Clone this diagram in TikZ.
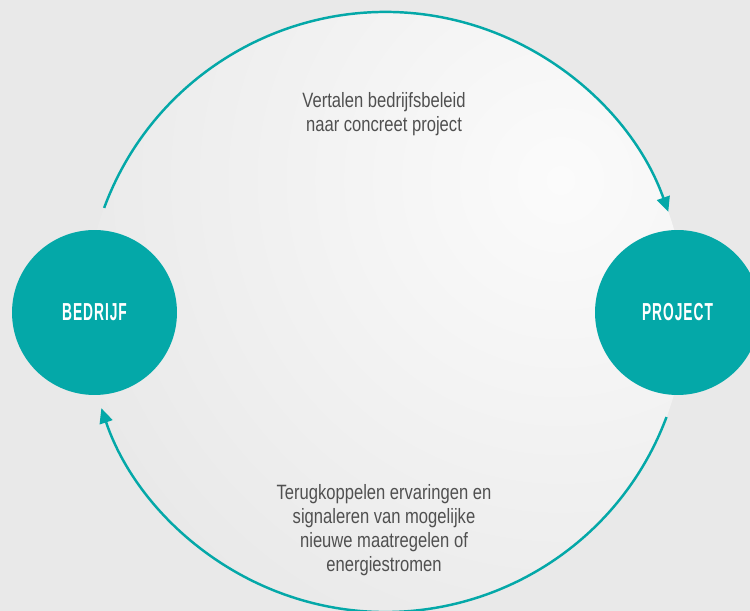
\documentclass[tikz,border=0pt]{standalone}
\usepackage{fontspec}
\usepackage{xcolor}
\usepackage{tikz}
\usetikzlibrary{arrows.meta,shapes}
\newfontfamily\bodyfont[FakeStretch=0.8]{Liberation Sans}
\newfontfamily\labelfont[FakeStretch=0.56,LetterSpace=4]{Liberation Sans Bold}
\definecolor{teal1}{RGB}{4,168,168}
\definecolor{bggray}{RGB}{233,233,233}
\definecolor{glow}{RGB}{251,251,251}
\definecolor{txtgray}{RGB}{80,80,80}

\begin{document}
\begin{tikzpicture}[x=0.02cm,y=0.02cm]
\tikzstyle{party} = [circle,fill=teal1,minimum size=3.3cm,inner sep=0pt,text=white,font=\labelfont\fontsize{14}{16}\selectfont];
\tikzstyle{flow} = [draw=teal1,line width=1.4pt,-{Triangle[length=8.5pt,width=7.5pt]}];
\tikzstyle{note} = [align=center,text=txtgray,font=\bodyfont\fontsize{11.8}{13.6}\selectfont];
\clip (0,0) rectangle (750,611);
\fill[bggray] (0,0) rectangle (750,611);
\coordinate (ring) at (385.5,299);
%\draw[red] (ring) circle (300);
\begin{scope}
\clip (ring) circle (300);
\shade[inner color=glow,outer color=bggray] ([shift={(175,132)}]ring) circle (520);
\end{scope}

\node [party] (Bedrijf) at (94.5,298.5) {BEDRIJF};
\node [party] (Project) at (677.5,298.5) {PROJECT};

\draw [flow] ([shift={(159.7:300)}]ring) arc[start angle=159.7,end angle=19.5,radius=300];
\draw [flow] ([shift={(-20.5:300)}]ring) arc[start angle=-20.5,end angle=-161.3,radius=300];

\node [note] (top) at (384,497) {Vertalen bedrijfsbeleid\\naar concreet project};
\node [note] (bottom) at (384,81) {Terugkoppelen ervaringen en\\signaleren van mogelijke\\nieuwe maatregelen of\\energiestromen};

\end{tikzpicture}
\end{document}
